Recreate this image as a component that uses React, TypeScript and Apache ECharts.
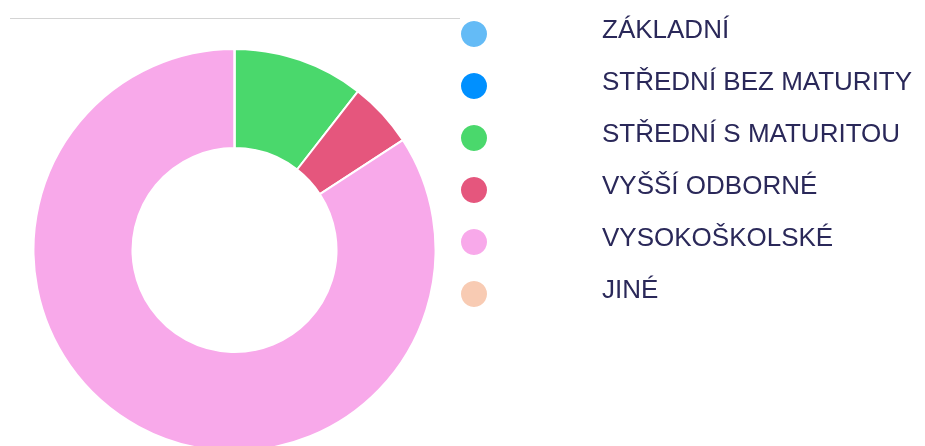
import React, { useEffect, useRef } from "react";
import * as echarts from "echarts";

const categories = [
  "ZÁKLADNÍ",
  "STŘEDNÍ BEZ MATURITY",
  "STŘEDNÍ S MATURITOU",
  "VYŠŠÍ ODBORNÉ",
  "VYSOKOŠKOLSKÉ",
  "JINÉ",
];
const values = [0, 0, 2, 1, 16, 0];
const colors = ["#64BBF6", "#0090FF", "#4AD86C", "#E5567D", "#F8A9EA", "#F8CBB3"];

export default function App() {
  const ref = useRef<HTMLDivElement>(null);
  useEffect(() => {
    if (!ref.current) return;
    const chart = echarts.init(ref.current, undefined, { renderer: "svg" });
    chart.setOption({
      animation: false,
      color: colors,
      graphic: [
        {
          type: "line",
          shape: { x1: 10, y1: 18.5, x2: 460, y2: 18.5 },
          style: { stroke: "#d4d4d4", lineWidth: 1 },
          z: -1,
        },
      ],
      legend: {
        orient: "vertical",
        left: 461,
        top: 16,
        padding: 0,
        icon: "circle",
        itemWidth: 26,
        itemHeight: 26,
        itemGap: 16,
        selectedMode: false,
        itemStyle: { borderWidth: 0 },
        data: categories,
        formatter: (name: string) => `{t|${name}}`,
        textStyle: {
          fontFamily: "'Liberation Sans', Arial, sans-serif",
          fontSize: 26,
          color: "#2a2859",
          padding: [0, 0, 0, 110],
          rich: {
            t: {
              fontFamily: "'Liberation Sans', Arial, sans-serif",
              fontSize: 26,
              color: "#2a2859",
              lineHeight: 20,
              padding: [0, 0, 10, 0],
            },
          },
        },
      },
      series: [
        {
          type: "pie",
          center: [234.5, 250],
          radius: [102, 201],
          startAngle: 90,
          clockwise: true,
          label: { show: false },
          labelLine: { show: false },
          emphasis: { disabled: true },
          itemStyle: { borderColor: "#ffffff", borderWidth: 2 },
          data: categories.map((name, i) => ({ name, value: values[i] })),
        },
      ],
    });
    return () => chart.dispose();
  }, []);
  return (
    <div
      ref={ref}
      style={{ position: "fixed", left: 0, top: 0, width: 925, height: 446 }}
    />
  );
}
